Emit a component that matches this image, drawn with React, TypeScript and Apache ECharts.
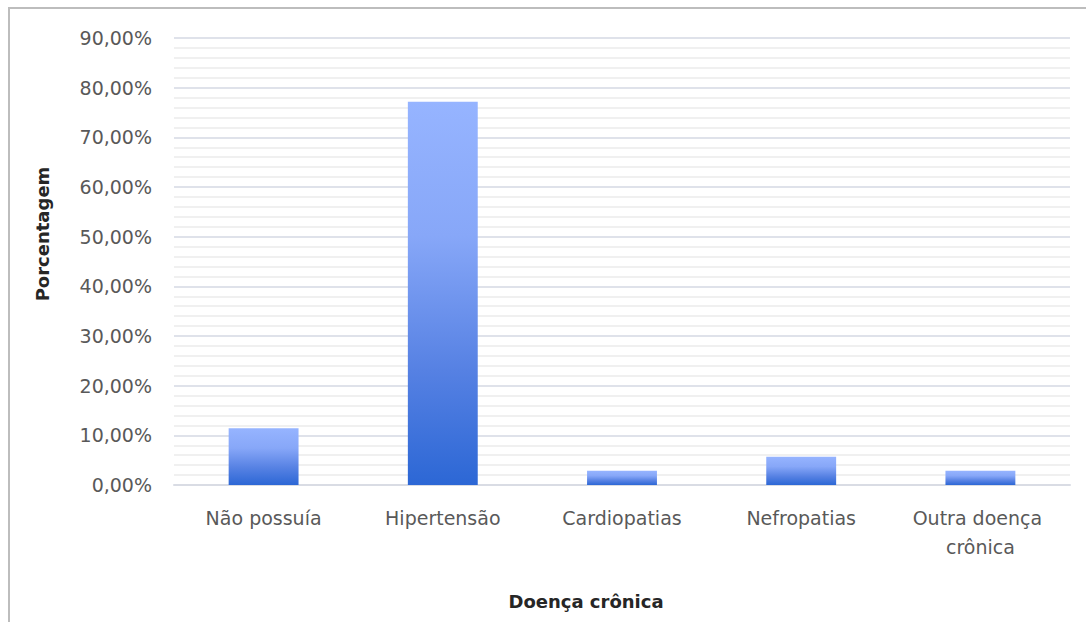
import React, { useEffect, useRef } from "react";
import * as echarts from "echarts";

// Share of respondents by chronic disease (percent)
const categories = ["Não possuía", "Hipertensão", "Cardiopatias", "Nefropatias", "Outra doença crônica"];
const percentages = [11.43, 77.14, 2.86, 5.71, 2.86];

const yMin = 0;
const yMax = 90;
const yInterval = 10;

const yTitle = "Porcentagem";
const xTitle = "Doença crônica";

const FONT = "'DejaVu Sans', 'Noto Sans', sans-serif";

const fmtPct = (v: number) => v.toFixed(2).replace(".", ",") + "%";

export default function App() {
  const ref = useRef<HTMLDivElement>(null);

  useEffect(() => {
    if (!ref.current) return;
    const chart = echarts.init(ref.current, null, { renderer: "svg" });

    const barGradient = new echarts.graphic.LinearGradient(0, 0, 0, 1, [
      { offset: 0, color: "#96b4ff" },
      { offset: 0.35, color: "#87a7f8" },
      { offset: 0.7, color: "#5681e3" },
      { offset: 1, color: "#2c67d5" },
    ]);

    chart.setOption({
      animation: false,
      backgroundColor: "#ffffff",
      textStyle: { fontFamily: FONT },
      grid: { left: 174, right: 16, top: 38, bottom: 137, containLabel: false },
      xAxis: {
        type: "category",
        data: categories,
        axisLine: { show: true, lineStyle: { color: "#d9dce4", width: 2 } },
        axisTick: { show: false },
        axisLabel: {
          interval: 0,
          margin: 18,
          color: "#595959",
          fontSize: 19,
          fontFamily: FONT,
          lineHeight: 29,
          width: 160,
          overflow: "break",
        },
      },
      yAxis: {
        type: "value",
        min: yMin,
        max: yMax,
        interval: yInterval,
        axisLine: { show: false },
        axisTick: { show: false },
        axisLabel: {
          margin: 22,
          color: "#595959",
          fontSize: 19,
          fontFamily: FONT,
          formatter: (v: number) => fmtPct(v),
        },
        splitLine: { show: true, lineStyle: { color: "#dfe2ea", width: 2 } },
        minorTick: { show: false, splitNumber: 5 },
        minorSplitLine: { show: true, lineStyle: { color: "#f0f0f0", width: 2 } },
      },
      series: [
        {
          type: "bar",
          data: percentages,
          barCategoryGap: "61%",
          itemStyle: { color: barGradient },
        },
      ],
      graphic: [
        {
          type: "rect",
          silent: true,
          shape: { x: 9, y: 8, width: 1200, height: 800 },
          style: { fill: "none", stroke: "#bdbdbd", lineWidth: 2 },
        },
        {
          type: "text",
          x: 42,
          y: 234,
          rotation: Math.PI / 2,
          style: {
            text: yTitle,
            fontSize: 18,
            fontWeight: "bold",
            fontFamily: FONT,
            fill: "#262626",
            align: "center",
            verticalAlign: "middle",
          },
        },
        {
          type: "text",
          x: 586,
          y: 601,
          style: {
            text: xTitle,
            fontSize: 18,
            fontWeight: "bold",
            fontFamily: FONT,
            fill: "#262626",
            align: "center",
            verticalAlign: "middle",
          },
        },
      ],
    });

    return () => chart.dispose();
  }, []);

  return (
    <div
      ref={ref}
      style={{ position: "absolute", left: 0, top: 0, width: 1086, height: 622 }}
    />
  );
}
